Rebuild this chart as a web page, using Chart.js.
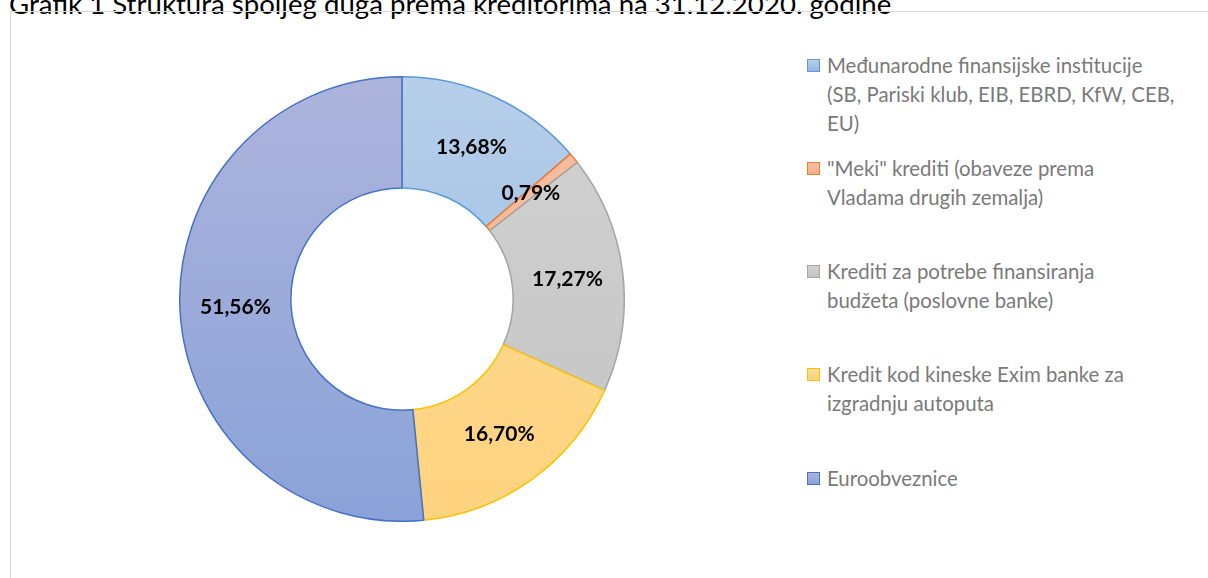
<!DOCTYPE html>
<html>
<head>
<meta charset="utf-8">
<script src="https://cdn.jsdelivr.net/npm/chart.js@4/dist/chart.umd.min.js"></script>
<style>
  body { margin: 0; background: #fff; width: 1208px; height: 578px; overflow: hidden; position: relative; font-family: Lato, "Open Sans", sans-serif; }
  #title { position: absolute; left: 9px; top: -10px; font-size: 27.6px; color: #000; white-space: nowrap; line-height: 28px; }
  #frame { position: absolute; left: 10px; top: 11px; width: 1300px; height: 700px; border: 1px solid #d9d9d9; }
  #chartBox { position: absolute; left: 179px; top: 76px; width: 446px; height: 446px; }
  .legItem { position: absolute; left: 807px; font-size: 20.4px; color: #7a7a7a; line-height: 29px; }
  .legItem .sq { position: absolute; left: 0; top: 8px; width: 11px; height: 11px; border: 1px solid; }
  .legItem .txt { position: absolute; left: 20px; top: 0; white-space: nowrap; }
</style>
</head>
<body>
<div id="title">Grafik 1 Struktura spoljeg duga prema kreditorima na 31.12.2020. godine</div>
<div id="frame"></div>
<div id="chartBox"><canvas id="grafik" width="446" height="446"></canvas></div>
<div id="legenda"></div>
<script>
// podaci
var kategorije = [
    ['Međunarodne finansijske institucije', '(SB, Pariski klub, EIB, EBRD, KfW, CEB,', 'EU)'],
    ['"Meki" krediti (obaveze prema', 'Vladama drugih zemalja)'],
    ['Krediti za potrebe finansiranja', 'budžeta (poslovne banke)'],
    ['Kredit kod kineske Exim banke za', 'izgradnju autoputa'],
    ['Euroobveznice']
];
var procenti = [13.68, 0.79, 17.27, 16.70, 51.56];

// boje (gornja, donja, ivica)
var bojeGore = ['#b7cfea', '#f6c0a4', '#d3d3d3', '#ffdc98', '#adb4dc'];
var bojeDole = ['#93b8e3', '#f2ae8a', '#c2c2c2', '#ffd37f', '#8aa2d8'];
var ivice = ['#5b9bd5', '#ed7d31', '#a5a5a5', '#ffc000', '#4472c4'];
var legendaY = [51, 154, 257, 360, 464];

function gradijent(context) {
    var chart = context.chart;
    var area = chart.chartArea;
    if (!area) return bojeGore[context.dataIndex];
    var g = chart.ctx.createLinearGradient(0, area.top, 0, area.bottom);
    g.addColorStop(0, bojeGore[context.dataIndex]);
    g.addColorStop(1, bojeDole[context.dataIndex]);
    return g;
}

const etikete = {
    id: 'etikete',
    afterDatasetsDraw(chart) {
        const ctx = chart.ctx;
        const meta = chart.getDatasetMeta(0);
        ctx.save();
        ctx.font = 'bold 21px Lato';
        ctx.fillStyle = '#000';
        ctx.textAlign = 'center';
        ctx.textBaseline = 'middle';
        meta.data.forEach(function (arc, i) {
            var p = arc.tooltipPosition();
            var txt = procenti[i].toFixed(2).replace('.', ',') + '%';
            ctx.fillText(txt, p.x, p.y);
        });
        ctx.restore();
    }
};

new Chart(document.getElementById('grafik'), {
    type: 'doughnut',
    data: {
        labels: kategorije,
        datasets: [{
            data: procenti,
            backgroundColor: gradijent,
            borderColor: ivice,
            borderWidth: 1.5,
            hoverOffset: 0
        }]
    },
    options: {
        responsive: false,
        animation: false,
        cutout: '50%',
        plugins: {
            legend: { display: false },
            tooltip: { enabled: false }
        }
    },
    plugins: [etikete]
});

// legenda
var legenda = document.getElementById('legenda');
for (var i = 0; i < kategorije.length; i++) {
    var item = document.createElement('div');
    item.className = 'legItem';
    item.style.top = legendaY[i] + 'px';
    var sq = document.createElement('div');
    sq.className = 'sq';
    sq.style.background = 'linear-gradient(' + bojeGore[i] + ',' + bojeDole[i] + ')';
    sq.style.borderColor = ivice[i];
    var txt = document.createElement('div');
    txt.className = 'txt';
    txt.innerHTML = kategorije[i].join('<br>');
    item.appendChild(sq);
    item.appendChild(txt);
    legenda.appendChild(item);
}
</script>
</body>
</html>
